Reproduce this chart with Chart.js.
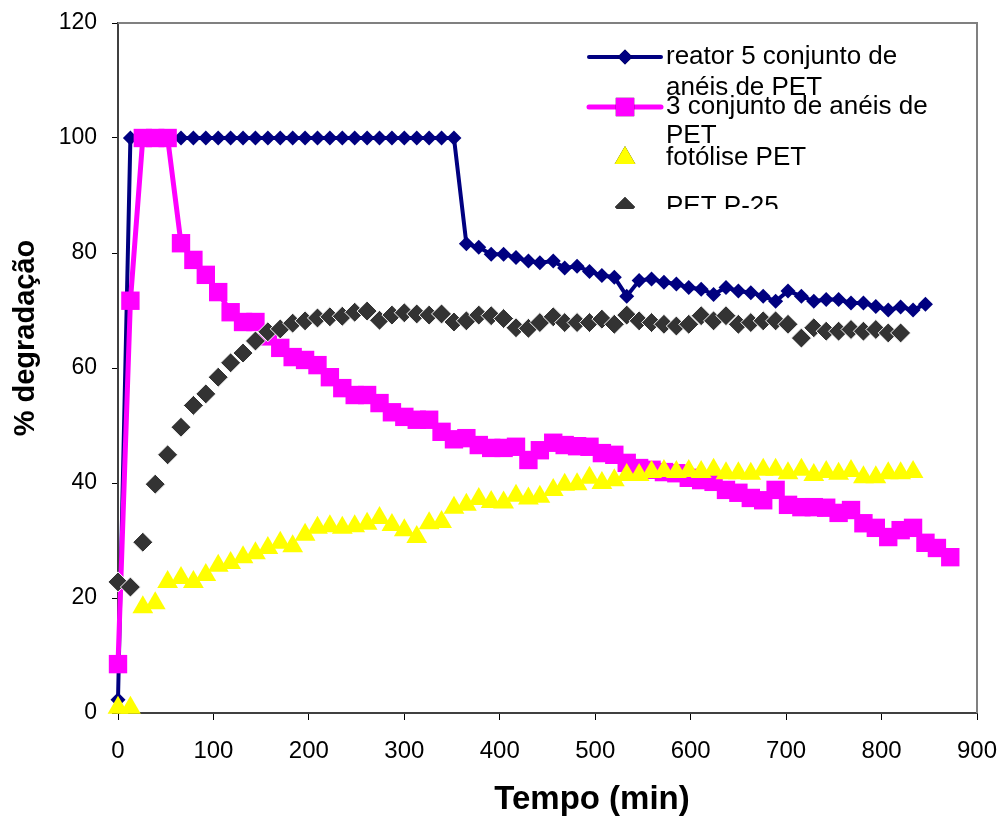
<!DOCTYPE html>
<html>
<head>
<meta charset="utf-8">
<script src="https://cdn.jsdelivr.net/npm/chart.js@4.4.1/dist/chart.umd.min.js"></script>
<style>
  html, body { margin: 0; padding: 0; background: #fff; }
  #grafico { display: block; }
</style>
</head>
<body>
<canvas id="grafico" width="1001" height="818"></canvas>
<script>
// tempo de amostragem (min)
const tempo = [0, 13, 26, 39, 52, 66, 79, 92, 105, 118, 131, 144, 157, 170, 183, 196, 209, 222, 235, 248,
  261, 274, 287, 300, 313, 326, 339, 352, 365, 378, 391, 404, 417, 430, 442, 456, 468, 481, 494, 507,
  520, 533, 546, 559, 572, 585, 598, 611, 624, 637, 650, 663, 676, 689, 702, 716, 729, 742, 755, 768,
  781, 794, 807, 820, 833, 846, 858, 872];

// % degradação de cada série
const reator5 = [2.3, 100, 100, 100, 100, 100, 100, 100, 100, 100, 100, 100, 100, 100, 100, 100, 100, 100,
  100, 100, 100, 100, 100, 100, 100, 100, 100, 100,
  81.6, 81.0, 79.8, 79.8, 79.2, 78.6, 78.3, 78.6, 77.4, 77.7, 76.8, 76.1, 75.8, 72.5, 75.2, 75.5, 74.9,
  74.6, 74.0, 73.7, 72.8, 74.0, 73.4, 73.1, 72.5, 71.6, 73.4, 72.5, 71.6, 71.9, 71.9, 71.3, 71.3, 70.7,
  70.1, 70.6, 70.1, 71.1];
const conjunto3 = [8.5, 71.7, 100, 100, 100, 81.7, 78.8, 76.2, 73.2, 69.7, 68.0, 68.0, 65.5, 63.5, 61.9,
  61.4, 60.5, 58.4, 56.5, 55.3, 55.3, 53.9, 52.3, 51.5, 51.0, 51.0, 48.9, 47.6, 47.8, 46.6, 46.1, 46.1,
  46.3, 44.0, 45.7, 47.0, 46.6, 46.4, 46.3, 45.2, 44.9, 43.5, 42.6, 42.3, 41.9, 41.7, 40.9, 40.5, 40.2,
  38.8, 38.3, 37.4, 37.0, 38.8, 36.2, 35.8, 35.8, 35.7, 34.8, 35.3, 33.0, 32.2, 30.6, 31.8, 32.2, 29.6,
  28.7, 27.1];
const fotolise = [0.9, 0.9, 18.4, 19.1, 22.8, 23.5, 22.8, 24.0, 25.6, 26.1, 27.1, 27.8, 28.7, 29.6, 29.0,
  31.0, 32.2, 32.5, 32.2, 32.5, 32.9, 33.9, 32.7, 31.8, 30.6, 33.0, 33.2, 35.7, 36.2, 37.2, 36.7, 36.6,
  37.8, 37.3, 37.6, 38.8, 39.7, 39.8, 40.9, 40.0, 40.5, 41.4, 41.4, 41.9, 42.1, 41.9, 42.1, 41.9, 42.3,
  41.7, 41.7, 41.6, 42.3, 42.3, 41.7, 42.3, 41.4, 41.9, 41.6, 42.1, 41.0, 41.0, 41.7, 41.7, 41.9];
const p25 = [22.8, 21.9, 29.7, 39.8, 44.9, 49.7, 53.5, 55.5, 58.4, 60.9, 62.6, 64.7, 66.3, 66.8, 67.8,
  68.2, 68.7, 68.9, 69.0, 69.7, 69.9, 68.3, 69.2, 69.6, 69.4, 69.2, 69.4, 68.0, 68.2, 69.2, 69.1, 68.6,
  67.0, 66.9, 67.9, 68.9, 67.9, 67.9, 67.9, 68.5, 67.6, 69.2, 68.2, 67.9, 67.6, 67.3, 67.6, 69.1, 68.2,
  69.1, 67.6, 67.9, 68.2, 68.2, 67.6, 65.2, 67.0, 66.4, 66.4, 66.7, 66.4, 66.7, 66.1, 66.1];

const nomes = ['reator 5 conjunto de|anéis de PET', '3 conjunto de anéis de|PET', 'fotólise PET', 'PET P-25'];
const eixoX = 'Tempo (min)';
const eixoY = '% degradação';

const FONTE = '"Liberation Sans", Arial, sans-serif';

function pontos(valores) {
    return valores.map((v, i) => ({ x: tempo[i], y: v }));
}

// moldura cinza (topo e direita) + títulos dos eixos
const moldura = {
    id: 'moldura',
    beforeDatasetsDraw(chart) {
        const { ctx, chartArea: a } = chart;
        ctx.save();
        ctx.strokeStyle = '#808080';
        ctx.lineWidth = 2;
        ctx.beginPath();
        ctx.moveTo(a.left, a.top);
        ctx.lineTo(a.right, a.top);
        ctx.lineTo(a.right, a.bottom);
        ctx.stroke();
        ctx.restore();
    },
    afterDraw(chart) {
        const ctx = chart.ctx;
        ctx.save();
        ctx.fillStyle = '#000';
        ctx.textAlign = 'center';
        ctx.textBaseline = 'middle';
        ctx.font = 'bold 33px ' + FONTE;
        ctx.fillText(eixoX, 592, 800);
        ctx.translate(26, 338);
        ctx.rotate(-Math.PI / 2);
        ctx.font = 'bold 29px ' + FONTE;
        ctx.fillText(eixoY, 0, 0);
        ctx.restore();
    }
};

// legenda desenhada à mão, cortada embaixo como no original
const legenda = {
    id: 'legenda',
    afterDraw(chart) {
        const ctx = chart.ctx;
        const sets = chart.data.datasets;
        const linhas = [[57, 88], [107, 136], [158], [207]];
        const xm = 625;
        ctx.save();
        ctx.beginPath();
        ctx.rect(560, 30, 415, 179);
        ctx.clip();
        ctx.font = '26px ' + FONTE;
        ctx.fillStyle = '#000';
        ctx.textBaseline = 'middle';
        nomes.forEach((nome, i) => {
            const ds = sets[i];
            const y = linhas[i][0];
            if (ds.showLine !== false) {
                ctx.strokeStyle = ds.borderColor;
                ctx.lineWidth = ds.borderWidth;
                ctx.lineCap = 'round';
                ctx.beginPath();
                ctx.moveTo(589, y);
                ctx.lineTo(661, y);
                ctx.stroke();
            }
            Chart.helpers.drawPoint(ctx, {
                pointStyle: ds.pointStyle,
                radius: ds.pointRadius,
                borderWidth: 0,
                rotation: 0
            }, xm, y);
            ctx.fillStyle = ds.backgroundColor;
            ctx.fill();
            ctx.fillStyle = '#000';
            nome.split('|').forEach((t, k) => {
                ctx.fillText(t, 666, linhas[i][k]);
            });
        });
        ctx.restore();
    }
};

const ctx = document.getElementById('grafico').getContext('2d');
const grafico = new Chart(ctx, {
    type: 'line',
    data: {
        datasets: [
            {
                label: nomes[0],
                data: pontos(reator5),
                borderColor: '#000080',
                backgroundColor: '#000080',
                borderWidth: 4,
                pointStyle: 'rectRot',
                pointRadius: 7.5,
                pointBorderWidth: 0,
                order: 4
            },
            {
                label: nomes[1],
                data: pontos(conjunto3),
                borderColor: '#ff00ff',
                backgroundColor: '#ff00ff',
                borderWidth: 5,
                pointStyle: 'rect',
                pointRadius: 13,
                pointBorderWidth: 0,
                order: 3
            },
            {
                label: nomes[2],
                data: pontos(fotolise),
                showLine: false,
                borderColor: '#ffff00',
                backgroundColor: '#ffff00',
                pointStyle: 'triangle',
                pointRadius: 12,
                pointBorderWidth: 0,
                order: 2
            },
            {
                label: nomes[3],
                data: pontos(p25),
                showLine: false,
                borderColor: '#333333',
                backgroundColor: '#333333',
                pointStyle: 'rectRot',
                pointRadius: 10,
                pointBorderColor: '#ffffff',
                pointBorderWidth: 1,
                order: 1
            }
        ]
    },
    options: {
        responsive: false,
        animation: false,
        devicePixelRatio: 1,
        clip: false,
        layout: { padding: { top: 23, right: 24, left: 0, bottom: 0 } },
        elements: { line: { tension: 0 } },
        plugins: {
            legend: { display: false },
            tooltip: { enabled: false }
        },
        scales: {
            x: {
                type: 'linear',
                min: 0,
                max: 900,
                ticks: {
                    stepSize: 100,
                    color: '#000',
                    font: { family: FONTE, size: 24 },
                    padding: 17,
                    maxRotation: 0
                },
                grid: { drawOnChartArea: false, drawTicks: true, tickLength: 7, color: '#000' },
                border: { color: '#404040', width: 2 },
                afterFit: s => { s.height = 105; s.paddingRight = 0; s.paddingLeft = 0; }
            },
            y: {
                min: 0,
                max: 120,
                ticks: {
                    stepSize: 20,
                    color: '#000',
                    font: { family: FONTE, size: 23 },
                    padding: 15
                },
                grid: { drawOnChartArea: false, drawTicks: true, tickLength: 6, color: '#000' },
                border: { color: '#404040', width: 2 },
                afterFit: s => { s.width = 118; s.paddingTop = 0; s.paddingBottom = 0; }
            }
        }
    },
    plugins: [moldura, legenda]
});
</script>
</body>
</html>
